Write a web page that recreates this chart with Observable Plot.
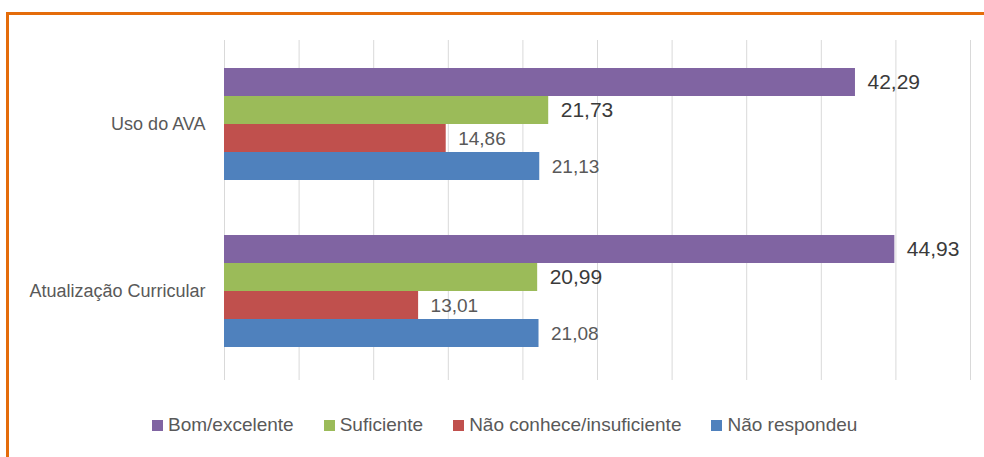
<!DOCTYPE html>
<html>
<head>
<meta charset="utf-8">
<script src="https://cdn.jsdelivr.net/npm/d3@7"></script>
<script src="https://cdn.jsdelivr.net/npm/@observablehq/plot@0.6"></script>
<style>
  html, body { margin: 0; padding: 0; background: #fff; }
  #wrap { position: relative; width: 984px; height: 457px; overflow: hidden; background: #fff;
          font-family: "Liberation Sans", Arial, sans-serif; }
  #border { position: absolute; left: 6px; top: 12px; width: 1100px; height: 600px;
            border-top: 3px solid #E46C0A; border-left: 3px solid #E46C0A; box-sizing: border-box; }
  .layer { position: absolute; left: 0; top: 0; }
  #legend { position: absolute; left: 152px; top: 414px; display: flex; align-items: center;
            gap: 30px; font-size: 19px; line-height: 22px; color: #595959; white-space: nowrap; }
  #legend .item { display: flex; align-items: center; }
  #legend .sw { width: 11px; height: 11px; margin-right: 5px; display: inline-block; }
</style>
</head>
<body>
<div id="wrap">
  <div id="grid" class="layer"></div>
  <div id="chart" class="layer"></div>
  <div id="border"></div>
  <div id="legend"></div>
</div>
<script>
const groups = ["Uso do AVA", "Atualização Curricular"];
const series = ["Bom/excelente", "Suficiente", "Não conhece/insuficiente", "Não respondeu"];
const colors = ["#8064A2", "#9BBB59", "#C0504D", "#4F81BD"];
const usoDoAva = [42.29, 21.73, 14.86, 21.13];
const atualizacaoCurricular = [44.93, 20.99, 13.01, 21.08];
const xTicks = [0, 5, 10, 15, 20, 25, 30, 35, 40, 45, 50];

const valuesByGroup = [usoDoAva, atualizacaoCurricular];
const data = [];
groups.forEach((g, gi) => {
  series.forEach((s, si) => {
    data.push({group: g, series: s, idx: si, value: valuesByGroup[gi][si]});
  });
});
const fmt = v => d3.format(".2f")(v).replace(".", ",");

const common = {
  width: 984,
  height: 400,
  marginLeft: 224,
  marginRight: 14,
  marginTop: 40,
  marginBottom: 26,
  style: {fontFamily: "'Liberation Sans', Arial, sans-serif", color: "#595959", background: "transparent"}
};

const grid = Plot.plot({
  ...common,
  x: {domain: [0, 50], axis: null},
  marks: [
    Plot.ruleX(xTicks, {stroke: "#d9d9d9", strokeWidth: 1, insetBottom: -6})
  ]
});
document.getElementById("grid").appendChild(grid);

const chart = Plot.plot({
  ...common,
  x: {domain: [0, 50], axis: null},
  y: {domain: series, padding: 0, axis: null},
  fy: {domain: groups, paddingInner: 0.32, paddingOuter: 0.16, label: null},
  color: {domain: series, range: colors},
  marks: [
    Plot.barX(data, {x: "value", y: "series", fy: "group", fill: "series"}),
    Plot.text(data.filter(d => d.idx < 2), {
      x: "value", y: "series", fy: "group", text: d => fmt(d.value),
      textAnchor: "start", dx: 12, fontSize: 21, fill: "#3a3a3a"
    }),
    Plot.text(data.filter(d => d.idx >= 2), {
      x: "value", y: "series", fy: "group", text: d => fmt(d.value),
      textAnchor: "start", dx: 12, fontSize: 19, fill: "#595959"
    }),
    Plot.axisFy({anchor: "left", tickSize: 0, tickPadding: 19, fontSize: 18, label: null, fill: "#595959"})
  ]
});
document.getElementById("chart").appendChild(chart);

const legend = document.getElementById("legend");
series.forEach((s, i) => {
  const item = document.createElement("div");
  item.className = "item";
  const sw = document.createElement("span");
  sw.className = "sw";
  sw.style.background = colors[i];
  const t = document.createElement("span");
  t.textContent = s;
  item.appendChild(sw);
  item.appendChild(t);
  legend.appendChild(item);
});
</script>
</body>
</html>
